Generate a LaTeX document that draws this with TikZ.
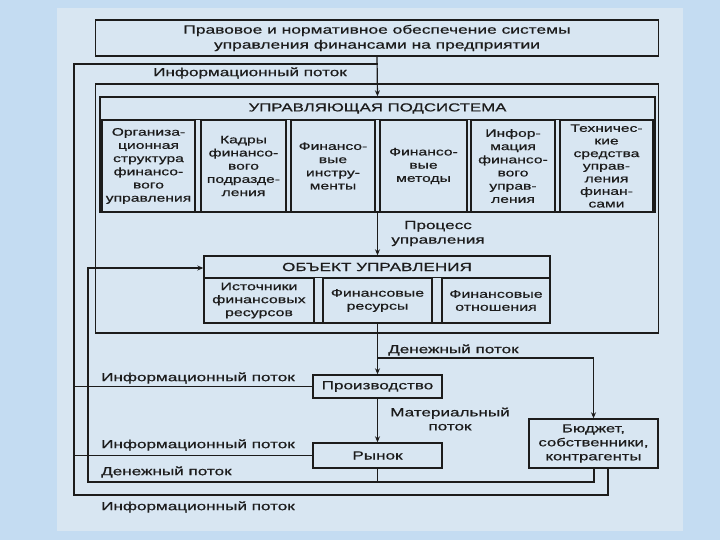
\documentclass[tikz,border=0pt]{standalone}
\usepackage{fontspec}
\setmainfont{Liberation Sans}[FakeStretch=1.45,FakeBold=0.6]
\usetikzlibrary{arrows.meta}
\definecolor{ink}{HTML}{1C1C1C}
\definecolor{slidebg}{HTML}{C4DCF2}
\definecolor{panel}{HTML}{D8E6F2}
\begin{document}
\begin{tikzpicture}[x=1pt,y=-1pt,
  box/.style={draw=ink, line width=1.4pt, inner sep=0pt, align=center, text=ink},
  sub/.style={box, font=\fontsize{10.8}{13.2}\selectfont},
  osub/.style={box, font=\fontsize{11}{13}\selectfont},
  lbl/.style={anchor=west, text=ink, font=\fontsize{11.8}{14}\selectfont, inner sep=0pt},
  clbl/.style={text=ink, align=center, font=\fontsize{11.8}{14.5}\selectfont, inner sep=0pt},
  conn/.style={draw=ink, line width=1.2pt},
  arr/.style={conn, -{Stealth[length=6pt,width=5pt]}}]
\fill[slidebg] (0,0) rectangle (720,540);
\fill[panel] (57,8) rectangle (683,531);
\useasboundingbox (0,0) rectangle (720,540);

% top box
\node[box, minimum width=563pt, minimum height=36pt, font=\fontsize{12}{15}\selectfont] (top) at (377,38)
  {Правовое и нормативное обеспечение системы\\управления финансами на предприятии};

% big frame
\node[box, line width=1.8pt, minimum width=563pt, minimum height=249pt] (frame) at (377,208.5) {};

% control subsystem
\node[box, minimum width=555pt, minimum height=115pt] (ctrl) at (377.5,154.5) {};
\node[clbl, font=\fontsize{11.6}{14}\selectfont] (ctrlhead) at (377.5,108.5) {УПРАВЛЯЮЩАЯ ПОДСИСТЕМА};
\node[sub, minimum width=93pt, minimum height=92pt] (c1) at (148.5,166) {Организа-\\ционная\\структура\\финансо-\\вого\\управления};
\node[sub, minimum width=85pt, minimum height=92pt] (c2) at (243.5,166) {Кадры\\финансо-\\вого\\подразде-\\ления};
\node[sub, minimum width=84pt, minimum height=92pt] (c3) at (333,166) {Финансо-\\вые\\инстру-\\менты};
\node[sub, minimum width=87pt, minimum height=92pt] (c4) at (423.5,166) {Финансо-\\вые\\методы};
\node[sub, minimum width=84pt, minimum height=92pt] (c5) at (513,166) {Инфор-\\мация\\финансо-\\вого\\управ-\\ления};
\node[sub, minimum width=93pt, minimum height=92pt, font=\fontsize{10.8}{12.6}\selectfont] (c6) at (606.5,166) {Техничес-\\кие\\средства\\управ-\\ления\\финан-\\сами};
\draw[conn, line width=1.4pt] (ctrl.west |- c1.north) -- (ctrl.east |- c1.north);

% object
\node[box, minimum width=346pt, minimum height=67pt] (obj) at (377,289.5) {};
\node[clbl] (objhead) at (377,267) {ОБЪЕКТ УПРАВЛЕНИЯ};
\node[osub, minimum width=110pt, minimum height=45pt] (o1) at (259,300.5) {Источники\\финансовых\\ресурсов};
\node[osub, minimum width=109pt, minimum height=45pt] (o2) at (377.5,300.5) {Финансовые\\ресурсы};
\node[osub, minimum width=108pt, minimum height=45pt] (o3) at (496,300.5) {Финансовые\\отношения};
\draw[conn, line width=1.4pt] (obj.west |- o1.north) -- (obj.east |- o1.north);

% lower boxes
\node[box, minimum width=129pt, minimum height=23pt, font=\fontsize{11.8}{14}\selectfont] (prod) at (377.5,386.5) {Производство};
\node[box, minimum width=129pt, minimum height=25pt, font=\fontsize{11.8}{14}\selectfont] (market) at (377.5,455.5) {Рынок};
\node[box, minimum width=129pt, minimum height=49pt, font=\fontsize{11.5}{14}\selectfont] (budget) at (593.5,443.5) {Бюджет,\\собственники,\\контрагенты};

% coordinates
\coordinate (j1) at (377.5,64);
\coordinate (oTL) at (74,64);
\coordinate (oBL) at (74,495);
\coordinate (oBR) at (608,495);
\coordinate (iTL) at (88,268);
\coordinate (iBL) at (88,482);
\coordinate (iBR) at (594,482);
\coordinate (m1) at (377.5,358);
\coordinate (m2) at (593.5,358);

% connectors
\draw[arr] (top.south) -- (ctrl.north);
\draw[conn] (j1) -- (oTL) -- (oBL) -- (oBR) -- (budget.south -| oBR);
\draw[arr] (ctrl.south -| o2.north) -- (obj.north -| o2.north);
\draw[arr] (budget.south -| iBR) -- (iBR) -- (iBL) -- (iTL) -- (iTL -| obj.west);
\draw[conn] (market.south) -- (market.south |- iBR);
\draw[arr] (o2.south) -- (prod.north);
\draw[arr] (m1) -- (m2) -- (budget.north);
\draw[conn] (prod.west -| oTL) -- (prod.west);
\draw[conn] (market.west -| oTL) -- (market.west);
\draw[arr] (prod.south) -- (market.north);

% labels
\node[lbl] (li1) at (153,73) {Информационный поток};
\node[clbl] (lproc) at (438,233.5) {Процесс\\управления};
\node[lbl] (lm1) at (388,350) {Денежный поток};
\node[lbl] (li2) at (101,378) {Информационный поток};
\node[clbl, font=\fontsize{11.8}{14}\selectfont] (lmat) at (450,419) {Материальный\\поток};
\node[lbl] (li3) at (101,445) {Информационный поток};
\node[lbl] (lm2) at (101,472) {Денежный поток};
\node[lbl] (li4) at (101,507) {Информационный поток};
\end{tikzpicture}
\end{document}
